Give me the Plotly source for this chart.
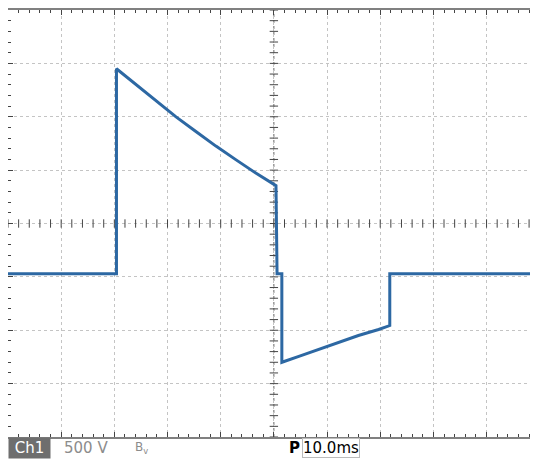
import numpy as np
import plotly.graph_objects as go

# Scope trace, time in ms (10 ms/div), voltage in V (500 V/div)
baseline_v = -470
t_start, t_end = -50, 49.3

decay_t = [-29.6, -25.8, -22.1, -18.4, -14.6, -10.9, -7.1, -3.4, 0.4]
decay_v = [1450, 1295, 1144, 999, 859, 725, 596, 472, 354]

notch_t = [0.6, 1.5]

ramp_t = [1.5, 4.7, 8.4, 12.2, 15.9, 19.7, 21.5]
ramp_v = [-1300, -1245, -1180, -1115, -1049, -993, -956]
ramp_end_t = 21.8

t = [t_start, decay_t[0]] + decay_t + notch_t + ramp_t + [ramp_end_t, ramp_end_t, t_end]
v = ([baseline_v, baseline_v] + decay_v + [baseline_v, baseline_v] + ramp_v
     + [ramp_v[-1], baseline_v, baseline_v])

fig = go.Figure()

# graticule centre cross with small ticks
fig.add_shape(type="line", x0=t_start, x1=t_end, y0=0, y1=0,
              line=dict(color="#666", width=1, dash="dot"), layer="below")
fig.add_shape(type="line", x0=0, x1=0, y0=-2000, y1=2000,
              line=dict(color="#666", width=1, dash="dot"), layer="below")
minor_x = np.arange(-50, 50, 2)
minor_y = np.arange(-2000, 2001, 100)
fig.add_trace(go.Scatter(x=minor_x, y=np.zeros_like(minor_x), mode="markers",
                         marker=dict(symbol="line-ns-open", size=6, color="#444", line=dict(width=1)),
                         hoverinfo="skip", showlegend=False))
fig.add_trace(go.Scatter(x=np.zeros_like(minor_y), y=minor_y, mode="markers",
                         marker=dict(symbol="line-ew-open", size=6, color="#444", line=dict(width=1)),
                         hoverinfo="skip", showlegend=False))

fig.add_trace(go.Scatter(x=t, y=v, mode="lines",
                         line=dict(color="#2d68a3", width=3),
                         showlegend=False))

axis_common = dict(showgrid=True, gridcolor="#c4c4c4", griddash="dot", gridwidth=1,
                   zeroline=False, showticklabels=False,
                   showline=True, linecolor="#808080", linewidth=2, mirror="ticks",
                   ticks="inside", ticklen=5, tickcolor="#444")

fig.update_xaxes(range=[t_start, t_end], dtick=10, tick0=0,
                 minor=dict(dtick=2, ticks="inside", ticklen=3, tickcolor="#444"),
                 **axis_common)
fig.update_yaxes(range=[-2000, 2000], dtick=500, tick0=0,
                 minor=dict(dtick=100, ticks="inside", ticklen=3, tickcolor="#444"),
                 **axis_common)

font = "DejaVu Sans"
ty = -0.026
fig.add_annotation(text=" Ch1 ", xref="paper", yref="paper", x=0, y=ty, xanchor="left", yanchor="middle",
                   showarrow=False, bgcolor="#6e6e6e", borderpad=1,
                   font=dict(family=font, size=15, color="white"))
fig.add_annotation(text="500 V", xref="paper", yref="paper", x=0.102, y=ty, xanchor="left", yanchor="middle",
                   showarrow=False, font=dict(family=font, size=15, color="#8c8c8c"))
fig.add_annotation(text="B<sub>v</sub>", xref="paper", yref="paper", x=0.236, y=ty, xanchor="left", yanchor="middle",
                   showarrow=False, font=dict(family=font, size=12, color="#8c8c8c"))
fig.add_annotation(text="<b>P</b>", xref="paper", yref="paper", x=0.528, y=ty, xanchor="left", yanchor="middle",
                   showarrow=False, font=dict(family=font, size=15, color="black"))
fig.add_annotation(text="10.0ms", xref="paper", yref="paper", x=0.557, y=ty, xanchor="left", yanchor="middle",
                   showarrow=False, bordercolor="#bbb", borderwidth=1, borderpad=0,
                   font=dict(family=font, size=15, color="black"))

# page body has an 8px margin, so the figure is sized to fit the window
fig.update_layout(width=530, height=451, margin=dict(l=0, r=0, t=0, b=22),
                  paper_bgcolor="white", plot_bgcolor="white")

fig.write_html("out.html")
